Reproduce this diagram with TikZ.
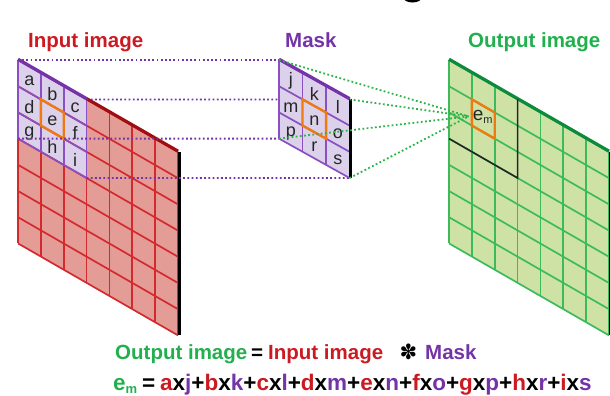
\documentclass[tikz,border=0pt]{standalone}
\usepackage{fontspec}
\setmainfont{Liberation Sans}
\newfontfamily\symbolfont{DejaVu Sans}

\definecolor{inred}{HTML}{CC1A22}
\definecolor{infill}{HTML}{E49C97}
\definecolor{ingrid}{HTML}{D42A2E}
\definecolor{inedge}{HTML}{A00E12}
\definecolor{mkpurple}{HTML}{7434A8}
\definecolor{mkfill}{HTML}{DCD1EA}
\definecolor{mkgrid}{HTML}{8A4FC2}
\definecolor{outgreen}{HTML}{22B04E}
\definecolor{outfill}{HTML}{CFE2A6}
\definecolor{outgrid}{HTML}{3CBB5C}
\definecolor{outedge}{HTML}{0E8A3C}
\definecolor{dotgreen}{HTML}{2DB34A}
\definecolor{hiorange}{HTML}{EE7A14}

\newcommand\redch[1]{\textcolor{inred}{#1}}
\newcommand\purch[1]{\textcolor{mkpurple}{#1}}

\tikzset{
  title/.style={font=\bfseries\fontsize{20.5bp}{24bp}\selectfont, inner sep=0pt, anchor=base west},
  eqline/.style={font=\bfseries\fontsize{22.5bp}{26bp}\selectfont, inner sep=0pt, anchor=base west},
  cellchar/.style={font=\fontsize{18bp}{20bp}\selectfont, inner sep=0pt, text=black!85},
  gridline/.style={line width=1.7bp},
  topedge/.style={line width=3.2bp},
  sideedge/.style={line width=2.8bp, black},
  hilite/.style={draw=hiorange, line width=2.4bp, line join=miter},
  purpledots/.style={mkpurple, line width=1.8bp, dash pattern=on 1.8bp off 2.4bp},
  greendots/.style={dotgreen, line width=1.8bp, dash pattern=on 1.8bp off 2.4bp},
}

\begin{document}
\begin{tikzpicture}[x=1bp, y=-1bp]
\useasboundingbox (0,0) rectangle (610,395);

% bottom of a heading letter above the frame
\fill[black] (412.5,-3) ellipse (9.5 and 5.5);

% ---------- input image ----------
\begin{scope}[shift={(18,60)}, x={(22.86bp,-13.14bp)}, y={(0bp,-26.2bp)}]
  \fill[infill] (0,0) -- (7,0) -- (7,7) -- (0,7) -- cycle;
  \fill[mkfill] (0,0) -- (3,0) -- (3,3) -- (0,3) -- cycle;
  \foreach \k in {0,...,7} {
    \draw[gridline, ingrid] (\k,0) -- (\k,7);
    \draw[gridline, ingrid] (0,\k) -- (7,\k);
  }
  \foreach \k in {0,...,3} {
    \draw[gridline, mkgrid] (\k,0) -- (\k,3);
    \draw[gridline, mkgrid] (0,\k) -- (3,\k);
  }
  \draw[sideedge] ([xshift=1.3bp]7,0) -- ([xshift=1.3bp]7,7);
  \draw[topedge, inedge] ([yshift=0.8bp]3,0) -- ([yshift=0.8bp]7,0);
  \draw[topedge, mkpurple] ([yshift=0.8bp]0,0) -- ([yshift=0.8bp]3,0);
  \draw[hilite] (1,1) -- (2,1) -- (2,2) -- (1,2) -- cycle;
  \node[cellchar] (in-a) at (0.5,0.55) {a};
  \node[cellchar] (in-b) at (1.5,0.55) {b};
  \node[cellchar] (in-c) at (2.5,0.55) {c};
  \node[cellchar] (in-d) at (0.5,1.55) {d};
  \node[cellchar] (in-e) at (1.5,1.55) {e};
  \node[cellchar] (in-f) at (2.5,1.55) {f};
  \node[cellchar] (in-g) at (0.5,2.55) {g};
  \node[cellchar] (in-h) at (1.5,2.55) {h};
  \node[cellchar] (in-i) at (2.5,2.55) {i};
  \coordinate (in-tl) at (0,0);
  \coordinate (in-tr) at (3,0);
  \coordinate (in-bl) at (0,3);
  \coordinate (in-br) at (3,3);
\end{scope}

% ---------- output image ----------
\begin{scope}[shift={(449,60)}, x={(22.86bp,-13.14bp)}, y={(0bp,-26.2bp)}]
  \fill[outfill] (0,0) -- (7,0) -- (7,7) -- (0,7) -- cycle;
  \foreach \k in {0,...,7} {
    \draw[gridline, outgrid] (\k,0) -- (\k,7);
    \draw[gridline, outgrid] (0,\k) -- (7,\k);
  }
  \draw[sideedge] ([xshift=1.3bp]7,0) -- ([xshift=1.3bp]7,7);
  \draw[topedge, outedge] ([yshift=0.8bp]0,0) -- ([yshift=0.8bp]7,0);
  \draw[line width=1.6bp, black!85] (0,3) -- (3,3) -- (3,0);
  \draw[hilite] (1,1) -- (2,1) -- (2,2) -- (1,2) -- cycle;
  \node[inner sep=0pt, anchor=base west, font=\fontsize{19bp}{20bp}\selectfont, text=black!85]
    (out-e) at (1.03,1.78) {e\raisebox{-3.5bp}{\fontsize{11bp}{12bp}\selectfont m}};
  \coordinate (focus) at (0.86,1.72);
\end{scope}

% purple guides from the input window to the mask
\draw[purpledots] (in-tl) -- (279,60) coordinate (mk-tl);
\draw[purpledots] (in-tr) -- (349.6,99.42) coordinate (mk-tr);
\draw[purpledots] (in-bl) -- (279,138.6) coordinate (mk-bl);
\draw[purpledots] (in-br) -- (349.6,178.02) coordinate (mk-br);

% ---------- mask ----------
\begin{scope}[shift={(279,60)}, x={(23.53bp,-13.14bp)}, y={(0bp,-26.2bp)}]
  \fill[mkfill] (0,0) -- (3,0) -- (3,3) -- (0,3) -- cycle;
  \foreach \k in {0,...,3} {
    \draw[gridline, mkgrid] (\k,0) -- (\k,3);
    \draw[gridline, mkgrid] (0,\k) -- (3,\k);
  }
  \draw[sideedge] ([xshift=1.3bp]3,0) -- ([xshift=1.3bp]3,3);
  \draw[topedge, mkpurple] ([yshift=0.8bp]0,0) -- ([yshift=0.8bp]3,0);
  \draw[hilite] (1,1) -- (2,1) -- (2,2) -- (1,2) -- cycle;
  \node[cellchar] (mk-j) at (0.5,0.55) {j};
  \node[cellchar] (mk-k) at (1.5,0.55) {k};
  \node[cellchar] (mk-l) at (2.5,0.55) {l};
  \node[cellchar] (mk-m) at (0.5,1.55) {m};
  \node[cellchar] (mk-n) at (1.5,1.55) {n};
  \node[cellchar] (mk-o) at (2.5,1.55) {o};
  \node[cellchar] (mk-p) at (0.5,2.55) {p};
  \node[cellchar] (mk-r) at (1.5,2.55) {r};
  \node[cellchar] (mk-s) at (2.5,2.55) {s};
\end{scope}

% green guides from the mask to the output pixel
\draw[greendots] (mk-tl) -- (focus);
\draw[greendots] (mk-tr) -- (focus);
\draw[greendots] (mk-bl) -- (focus);
\draw[greendots] (mk-br) -- (focus);

% ---------- headings ----------
\node[title, text=inred] (t-in) at (28,47) {Input image};
\node[title, text=mkpurple] (t-mk) at (285,47) {Mask};
\node[title, text=outgreen] (t-out) at (468,47) {Output image};

% ---------- formulas ----------
\node[title, text=outgreen] (f-out) at (115,359) {Output image};
\node[title] (f-eq) at (251,359) {=};
\node[title, text=inred] (f-in) at (268,359) {Input image};
\node[inner sep=0pt, font=\symbolfont\fontsize{21bp}{22bp}\selectfont] (f-conv) at (408.5,351.5) {✽};
\node[title, text=mkpurple] (f-mk) at (425,359) {Mask};

\node[eqline, text=outgreen] (g-em) at (113,390.5) {e\raisebox{-2.5bp}{\fontsize{13bp}{15bp}\selectfont m}};
\node[eqline] (g-eq) at (142,390.5) {=};
\node[eqline] (g-sum) at (160,390.5)
  {\redch{a}x\purch{j}+\redch{b}x\purch{k}+\redch{c}x\purch{l}+\redch{d}x\purch{m}+\redch{e}x\purch{n}+\redch{f}x\purch{o}+\redch{g}x\purch{p}+\redch{h}x\purch{r}+\redch{i}x\purch{s}};
\end{tikzpicture}
\end{document}
